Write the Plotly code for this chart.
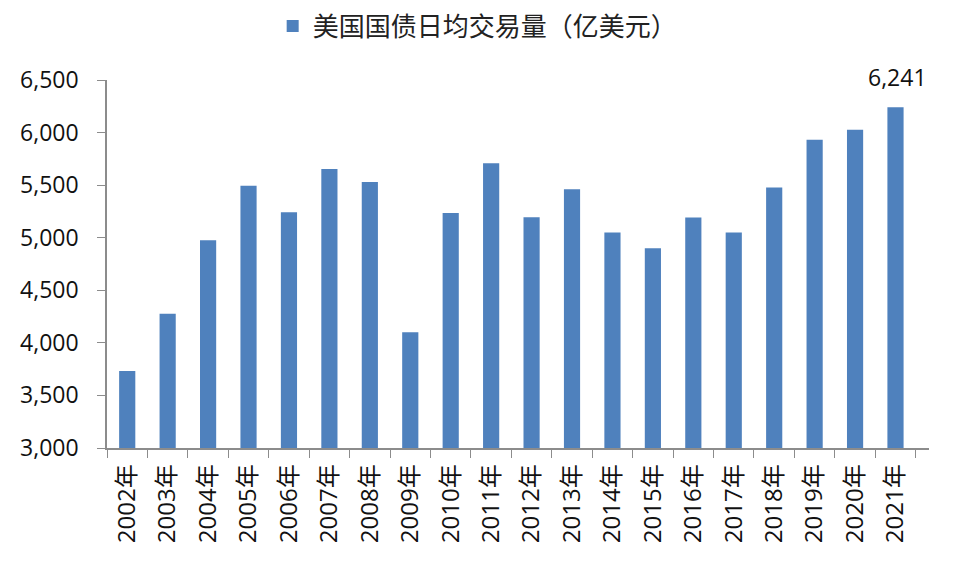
import plotly.graph_objects as go

years = [str(y) + "年" for y in range(2002, 2022)]
values = [3732, 4277, 4976, 5494, 5243, 5654, 5530, 4100, 5235, 5709,
          5195, 5461, 5050, 4900, 5193, 5050, 5478, 5931, 6027, 6241]
series_name = "美国国债日均交易量（亿美元）"

fig = go.Figure()
fig.add_trace(go.Bar(
    x=years, y=values, name=series_name,
    marker=dict(color="#4F81BD", line=dict(width=0)),
    showlegend=True,
))

fig.add_annotation(
    x=years[-1], y=values[-1], text=f"{values[-1]:,}",
    showarrow=False, yanchor="bottom", yshift=12, xshift=2,
    font=dict(family="Open Sans, Liberation Sans, sans-serif", size=23, color="#111111"),
)

fig.update_layout(
    width=965, height=565,
    margin=dict(l=107, r=36, t=80, b=117, autoexpand=False),
    plot_bgcolor="white", paper_bgcolor="white",
    bargap=0.6,
    showlegend=True,
    legend=dict(orientation="h", xref="container", yref="container",
                x=0.495, xanchor="center", y=0.954, yanchor="middle",
                font=dict(family="Noto Sans CJK SC", size=26, color="#222222"),
                itemwidth=30),
    font=dict(family="Open Sans, Liberation Sans, sans-serif", color="#111111"),
)
fig.update_xaxes(
    type="category", tickangle=-90, showgrid=False,
    showline=True, linecolor="#8C8C8C", linewidth=1.5,
    ticks="outside", tickson="boundaries", ticklen=8, tickcolor="#8C8C8C",
    ticklabelstandoff=5,
    tickfont=dict(family="Open Sans, Noto Sans CJK SC, sans-serif", size=24, color="#111111"),
)
fig.update_yaxes(
    range=[3000, 6500], dtick=500, tickformat=",", showgrid=False, zeroline=False,
    showline=True, linecolor="#8C8C8C", linewidth=1.5,
    ticks="outside", ticklen=8, tickcolor="#8C8C8C",
    ticklabelstandoff=14,
    tickfont=dict(family="Open Sans, Liberation Sans, sans-serif", size=23, color="#111111"),
)

fig.write_html("out.html")
